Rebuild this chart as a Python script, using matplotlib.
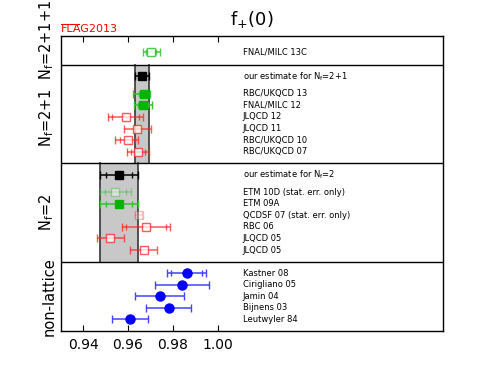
import matplotlib
matplotlib.use("Agg")
import matplotlib.pyplot as plt
import numpy as np

# ---------------- data ----------------
group_labels = [r"N$_\mathrm{f}$=2+1+1", r"N$_\mathrm{f}$=2+1", r"N$_\mathrm{f}$=2", "non-lattice"]

# Nf=2+1+1
g4_names = ["FNAL/MILC 13C"]
g4_vals = [0.9704]
g4_stat = [0.0022]
g4_lo = [0.0038]
g4_hi = [0.0038]
g4_kind = ["green_open"]

# Nf=2+1
est3_label = r"our estimate for N$_\mathrm{f}$=2+1"
est3_val = 0.9661
est3_err = 0.0032
g3_names = ["RBC/UKQCD 13", "FNAL/MILC 12", "JLQCD 12", "JLQCD 11", "RBC/UKQCD 10", "RBC/UKQCD 07"]
g3_vals = [0.9670, 0.9667, 0.9590, 0.9640, 0.9599, 0.9644]
g3_stat = [0.0020, 0.0023, 0.0060, None, 0.0034, 0.0033]
g3_lo = [0.0048, 0.0040, 0.0078, 0.0060, 0.0058, 0.0047]
g3_hi = [0.0028, 0.0040, 0.0078, 0.0060, 0.0046, 0.0047]
g3_kind = ["green", "green", "red", "red", "red", "red"]

# Nf=2
est2_label = r"our estimate for N$_\mathrm{f}$=2"
est2_val = 0.9560
est2_stat = 0.0057
est2_err = 0.0084
g2_names = ["ETM 10D (stat. err. only)", "ETM 09A", "QCDSF 07 (stat. err. only)", "RBC 06", "JLQCD 05", "JLQCD 05"]
g2_vals = [0.9544, 0.9560, 0.9647, 0.9680, 0.9520, 0.9670]
g2_stat = [0.0045, 0.0057, None, 0.0090, None, None]
g2_lo = [0.0068, 0.0084, 0.0015, 0.0107, 0.0060, 0.0060]
g2_hi = [0.0068, 0.0084, 0.0015, 0.0107, 0.0060, 0.0060]
g2_kind = ["green_faded", "green", "red_faded", "red", "red", "red"]

# non-lattice
gn_names = ["Kastner 08", "Cirigliano 05", "Jamin 04", "Bijnens 03", "Leutwyler 84"]
gn_vals = [0.986, 0.984, 0.974, 0.978, 0.961]
gn_stat = [0.0070, None, None, None, None]
gn_lo = [0.0088, 0.012, 0.011, 0.010, 0.008]
gn_hi = [0.0088, 0.012, 0.011, 0.010, 0.008]
gn_kind = ["blue"] * 5

xticks = [0.94, 0.96, 0.98, 1.00]
xtick_labels = ["0.94", "0.96", "0.98", "1.00"]

# ---------------- styles ----------------
styles = {
    "green":       dict(mfc="#00b400", mec="#00b400", marker="s", alpha=1.0, ecolor="#33c033"),
    "green_open":  dict(mfc="white", mec="#33c033", marker="s", alpha=0.85, ecolor="#33c033"),
    "green_faded": dict(mfc="white", mec="#33c033", marker="s", alpha=0.45, ecolor="#33c033"),
    "red":         dict(mfc="white", mec="#ff2222", marker="s", alpha=0.75, ecolor="#ff2222"),
    "red_faded":   dict(mfc="white", mec="#ff2222", marker="s", alpha=0.3, ecolor="#ff2222"),
    "blue":        dict(mfc="#0000ff", mec="#0000ff", marker="o", alpha=1.0, ecolor="#4444ff"),
    "black":       dict(mfc="black", mec="black", marker="s", alpha=1.0, ecolor="black"),
}

fig = plt.figure(figsize=(4.91, 3.68), dpi=100)
ax = fig.add_axes([61 / 491, 1 - 331 / 368, (443 - 61) / 491, (331 - 36) / 368])

label_x = 1.011
txt_fs = 6.0


def draw_point(y, v, lo, hi, stat, kind, ms=5.5):
    st = styles[kind]
    ax.errorbar([v], [y], xerr=[[lo], [hi]], fmt="none", ecolor=st["ecolor"],
                elinewidth=1.1, capsize=3, capthick=1.0, alpha=st["alpha"], zorder=3)
    if stat is not None:
        ax.plot([v - stat, v + stat], [y, y], ls="none", marker="|", ms=5,
                mew=1.0, color=st["ecolor"], alpha=st["alpha"], zorder=3)
    ax.plot([v], [y], ls="none", marker=st["marker"], ms=ms, mfc=st["mfc"],
            mec=st["mec"], mew=1.0, alpha=st["alpha"], zorder=4)


def draw_rows(names, vals, stats, los, his, kinds, y0):
    ys = y0 + np.arange(len(names))
    for n, v, s, lo, hi, k, y in zip(names, vals, stats, los, his, kinds, ys):
        ms = 6.5 if k == "blue" else 5.8
        draw_point(y, v, lo, hi, s, k, ms=ms)
        ax.text(label_x, y, n, fontsize=txt_fs, va="center", ha="left")
    return ys


# ---------- group layout ----------
seps = []
top = 0.0
ys4 = draw_rows(g4_names, g4_vals, g4_stat, g4_lo, g4_hi, g4_kind, top + 1.4)
bottom4 = top + 2.5
seps.append(bottom4)

# 2+1
top = bottom4
y_est3 = top + 1
ys3 = draw_rows(g3_names, g3_vals, g3_stat, g3_lo, g3_hi, g3_kind, y_est3 + 1.5)
bottom3 = ys3[-1] + 1
ax.fill_betweenx([top, bottom3], est3_val - est3_err, est3_val + est3_err,
                 facecolor="#c8c8c8", edgecolor="none", zorder=1)
for xe in (est3_val - est3_err, est3_val + est3_err):
    ax.plot([xe, xe], [top, bottom3], color="#444444", lw=1.3, zorder=2)
draw_point(y_est3, est3_val, est3_err, est3_err, None, "black", ms=6.2)
ax.text(label_x, y_est3, est3_label, fontsize=txt_fs, va="center", ha="left")
seps.append(bottom3)

# 2
top = bottom3
y_est2 = top + 1
ys2 = draw_rows(g2_names, g2_vals, g2_stat, g2_lo, g2_hi, g2_kind, y_est2 + 1.5)
bottom2 = ys2[-1] + 1
ax.fill_betweenx([top, bottom2], est2_val - est2_err, est2_val + est2_err,
                 facecolor="#c8c8c8", edgecolor="none", zorder=1)
for xe in (est2_val - est2_err, est2_val + est2_err):
    ax.plot([xe, xe], [top, bottom2], color="#444444", lw=1.3, zorder=2)
draw_point(y_est2, est2_val, est2_err, est2_err, est2_stat, "black", ms=6.2)
ax.text(label_x, y_est2, est2_label, fontsize=txt_fs, va="center", ha="left")
seps.append(bottom2)

# non-lattice
top = bottom2
ysn = draw_rows(gn_names, gn_vals, gn_stat, gn_lo, gn_hi, gn_kind, top + 1)
bottomn = ysn[-1] + 1

for s in seps:
    ax.axhline(s, color="black", lw=1.0, zorder=5)

bounds = [0.0, bottom4, bottom3, bottom2, bottomn]
label_shift = [-0.9, 0.3, 0.0, 0.0]
for i, lab in enumerate(group_labels):
    yc = 0.5 * (bounds[i] + bounds[i + 1]) + label_shift[i]
    ax.text(-0.012, yc, lab, transform=ax.get_yaxis_transform(), rotation=90,
            ha="right", va="center", fontsize=10.5, clip_on=False)

ax.set_xlim(0.9302, 1.1000)
ax.set_ylim(bottomn, 0)
ax.set_xticks(xticks)
ax.set_xticklabels(xtick_labels, fontsize=10)
ax.set_yticks([])
ax.tick_params(axis="x", direction="in", top=True, bottom=True, length=4, width=0.8, pad=5)
for sp in ax.spines.values():
    sp.set_linewidth(1.0)

ax.set_title(r"$\mathrm{f}_{+}(0)$", fontsize=13, pad=8)

fig.text(61 / 491, 1 - 29 / 368, "FLAG2013", color="red", fontsize=8, ha="left", va="center")
fig.add_artist(plt.Line2D([61 / 491, 79 / 491], [1 - 24.3 / 368, 1 - 24.3 / 368],
                          color="red", lw=0.8, transform=fig.transFigure))

fig.savefig("out.png", dpi=100)
